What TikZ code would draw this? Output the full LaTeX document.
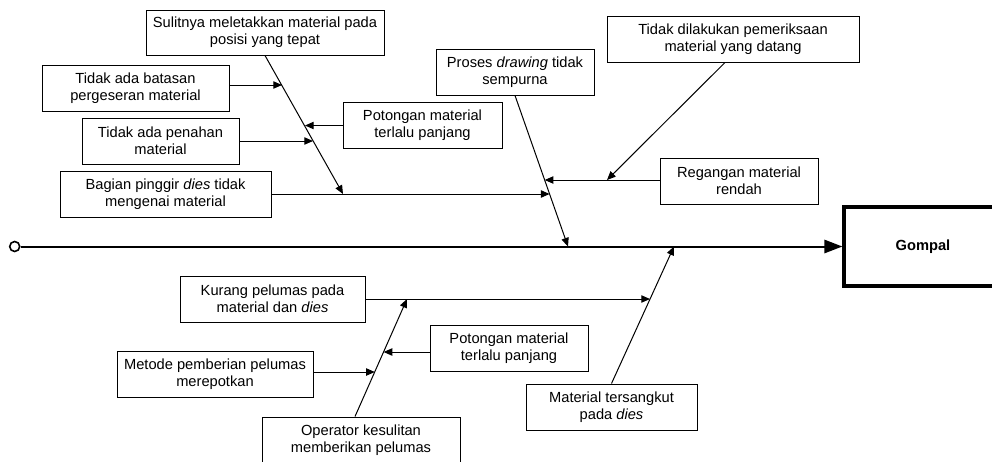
\documentclass[tikz,border=0pt]{standalone}
\usepackage{fontspec}
\setmainfont{Liberation Sans}
\usepackage{tikz}
\usetikzlibrary{calc,arrows.meta,positioning}
\tikzstyle{box} = [draw, rectangle, line width=0.75pt, align=center, inner sep=2pt,
	font=\fontsize{11}{13}\selectfont]
\tikzstyle{arr} = [line width=0.75pt, -{Triangle[length=6.5pt,width=5.5pt]}]
\tikzstyle{spine} = [line width=1.5pt, -{Triangle[length=13.5pt,width=10pt]}]
\tikzset{sz/.style 2 args={minimum width=#1*0.75pt, minimum height=#2*0.75pt}}

\begin{document}
\begin{tikzpicture}[x=0.75pt,y=-0.75pt]
	\useasboundingbox (0,0) rectangle (992,461);
	\clip (0,0) rectangle (992,461);

	% akibat
	\node[box, sz={158}{79}, line width=2.5pt, font=\fontsize{11}{13}\selectfont\bfseries] (gompal) at (923,246.5) {Gompal};
	\node[circle, draw, line width=1.2pt, inner sep=0pt, minimum size=7.5pt] (tail) at (14.7,246.5) {};

	% penyebab atas
	\node[box, sz={238}{45}] (sulit) at (265,32.5) {Sulitnya meletakkan material pada\\posisi yang tepat};
	\node[box, sz={187}{46}] (batas) at (135.5,88) {Tidak ada batasan\\pergeseran material};
	\node[box, sz={157}{46}] (tahan) at (160.5,141) {Tidak ada penahan\\material};
	\node[box, sz={211}{46}] (pinggir) at (165.5,194) {Bagian pinggir \textit{dies} tidak\\mengenai material};
	\node[box, sz={159}{46}] (potong) at (422.5,125) {Potongan material\\terlalu panjang};
	\node[box, sz={158}{46}] (proses) at (515,72) {Proses \textit{drawing} tidak\\sempurna};
	\node[box, sz={252}{46}] (periksa) at (733,39) {Tidak dilakukan pemeriksaan\\material yang datang};
	\node[box, sz={158}{46}] (regang) at (739,181) {Regangan material\\rendah};

	% penyebab bawah
	\node[box, sz={185}{46}] (kurang) at (272.5,299) {Kurang pelumas pada\\material dan \textit{dies}};
	\node[box, sz={158}{46}] (potong2) at (509,348) {Potongan material\\terlalu panjang};
	\node[box, sz={196}{46}] (metode) at (215,374.5) {Metode pemberian pelumas\\merepotkan};
	\node[box, sz={198}{46}] (operator) at (361,440) {Operator kesulitan\\memberikan pelumas};
	\node[box, sz={171}{46}] (sangkut) at (611.5,407) {Material tersangkut\\pada \textit{dies}};

	% titik temu
	\coordinate (pF) at (568,246.5);
	\coordinate (pM) at (674,246.5);
	\coordinate (jA) at (343,194);
	\coordinate (jB) at (282,85);
	\coordinate (jC) at (313,141);
	\coordinate (jE) at (305,125.5);
	\coordinate (jD) at (549.6,194);
	\coordinate (jH) at (544.7,180);
	\coordinate (jG) at (607,180);
	\coordinate (jI) at (650,299);
	\coordinate (jL) at (407,299);
	\coordinate (jK) at (374.8,372);
	\coordinate (jJ) at (383.6,352);

	\draw[spine] (tail) -- (gompal.west);

	\draw[arr] (sulit.south) -- (jA);
	\draw[arr] (proses.south) -- (pF);
	\draw[arr] (sangkut.north) -- (pM);
	\draw[arr] ([xshift=-4.5pt]operator.north) -- (jL);
	\draw[arr] ([xshift=-6pt]periksa.south) -- (jG);
	\foreach \n/\j in {batas.east/jB, tahan.east/jC, potong.west/jE, pinggir.east/jD,
		regang.west/jH, kurang.east/jI, metode.east/jK, potong2.west/jJ}
	{
		\draw[arr] (\n |- \j) -- (\j);
	}
\end{tikzpicture}
\end{document}
